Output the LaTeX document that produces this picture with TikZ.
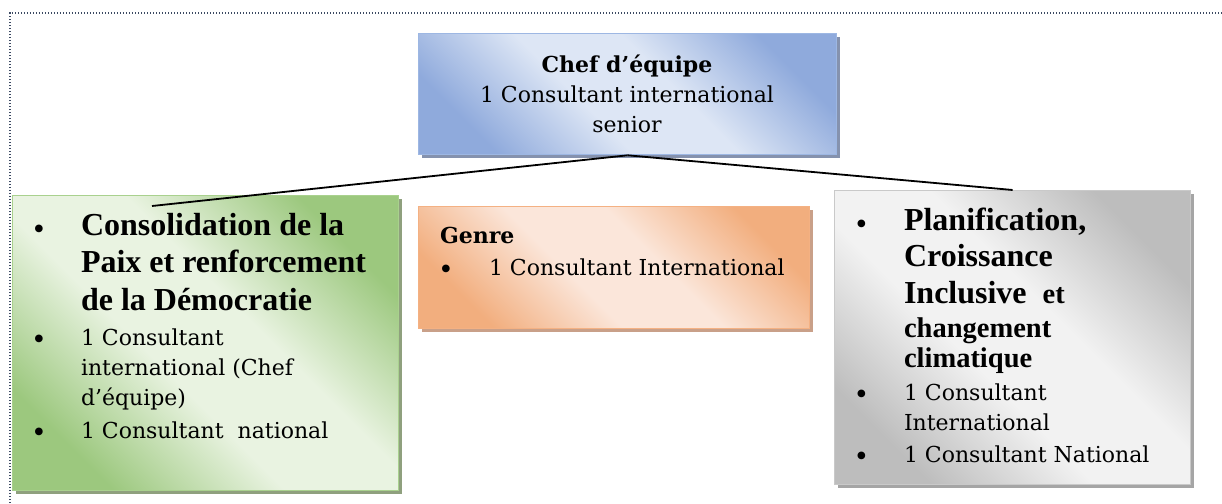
\documentclass[tikz,border=0pt]{standalone}
\usepackage{fontspec}
\setmainfont{DejaVu Serif}
\newfontfamily\tms{Liberation Serif}
\usetikzlibrary{shadows}
\definecolor{frameC}{HTML}{3C4A63}
\definecolor{blueD}{HTML}{8FAADC}
\definecolor{blueL}{HTML}{DDE6F5}
\definecolor{blueB}{HTML}{9DB7E3}
\definecolor{blueS}{HTML}{8592AE}
\definecolor{greenD}{HTML}{9CC87E}
\definecolor{greenL}{HTML}{E9F3E1}
\definecolor{greenB}{HTML}{A9D18E}
\definecolor{greenS}{HTML}{8FA07E}
\definecolor{orD}{HTML}{F2AE7E}
\definecolor{orL}{HTML}{FBE6DA}
\definecolor{orB}{HTML}{F4B183}
\definecolor{orS}{HTML}{C9A089}
\definecolor{grD}{HTML}{BDBDBD}
\definecolor{grL}{HTML}{F2F2F2}
\definecolor{grB}{HTML}{C9C9C9}
\definecolor{grS}{HTML}{A5A5A5}
\pgfdeclarehorizontalshading{blueSh}{100bp}{color(0bp)=(blueD); color(25bp)=(blueD); color(43bp)=(blueL); color(57bp)=(blueL); color(75bp)=(blueD); color(100bp)=(blueD)}
\pgfdeclarehorizontalshading{greenSh}{100bp}{color(0bp)=(greenD); color(25bp)=(greenD); color(43bp)=(greenL); color(57bp)=(greenL); color(75bp)=(greenD); color(100bp)=(greenD)}
\pgfdeclarehorizontalshading{orSh}{100bp}{color(0bp)=(orD); color(25bp)=(orD); color(43bp)=(orL); color(57bp)=(orL); color(75bp)=(orD); color(100bp)=(orD)}
\pgfdeclarehorizontalshading{grSh}{100bp}{color(0bp)=(grD); color(25bp)=(grD); color(43bp)=(grL); color(57bp)=(grL); color(75bp)=(grD); color(100bp)=(grD)}
\newcommand\fixsp{\spaceskip=0pt\xspaceskip=0pt\relax}
\newcommand\camf{\normalfont\fontsize{22}{30}\selectfont\fixsp}
\newcommand\camb{\normalfont\bfseries\fontsize{22}{30}\selectfont\fixsp}
\newcommand\hdf{\tms\bfseries\fontsize{32}{37.5}\selectfont\fixsp}
\newcommand\hdg{\tms\bfseries\fontsize{32}{36.5}\selectfont\fixsp}
\newcommand\hds{\tms\bfseries\fontsize{28.5}{30}\selectfont\fixsp}
\newcommand\bulglyph{\raisebox{-4pt}{\tms\mdseries\fontsize{32}{32}\selectfont •}}
\newcommand\bul[1]{\noindent\llap{\bulglyph\hspace{#1}}}
\begin{document}
\begin{tikzpicture}[x=1pt,y=-1pt,
  box/.style={draw, line width=1.3pt, rectangle, inner sep=0pt, anchor=north west},
  shadeS/.style 2 args={shading=#1, shading angle=45,
     general shadow={fill=#2, shadow xshift=3pt, shadow yshift=-3pt}},
  txt/.style={inner sep=0pt, outer sep=0pt, align=flush left, anchor=base west},
  conn/.style={draw=black, line width=1.8pt}]
\useasboundingbox (0,0) rectangle (1222,503);
\draw[frameC, line width=1.2pt, dash pattern=on 1.2pt off 1.8pt] (10,503) -- (10,13) -- (1222,13);

\node[box, draw=blueB, shadeS={blueSh}{blueS}, minimum width=418pt, minimum height=121pt] (chef) at (418,33) {};
\node[box, draw=greenB, shadeS={greenSh}{greenS}, minimum width=386pt, minimum height=295pt] (paix) at (12,195) {};
\node[box, draw=orB, shadeS={orSh}{orS}, minimum width=391pt, minimum height=122pt] (genre) at (418,206) {};
\node[box, draw=grB, shadeS={grSh}{grS}, minimum width=356pt, minimum height=294pt] (plan) at (834,190) {};

\node[txt, anchor=base, align=flush center, text width=410pt] (chefTxt) at (627,72)
  {\camb Chef d’équipe\par\camf 1 Consultant international\\senior\par};

\node[txt, text width=310pt] (paixTxt) at (81,235)
  {\hdf\bul{36.4pt}Consolidation de la\\Paix et renforcement\\de la Démocratie\par
   \vspace{5pt}\camf\bul{36.4pt}1 Consultant\\international (Chef\\d’équipe)\par
   \vspace{3pt}\bul{36.4pt}1 Consultant\ \ national\par};

\node[txt, text width=380pt] (genreTxt) at (440,243)
  {\camb Genre\par\vspace{2pt}\camf\noindent\makebox[49pt][l]{\hspace{0.4pt}\bulglyph}1 Consultant International\par};

\node[txt, text width=280pt] (planTxt) at (904,230)
  {\hdg\bul{37pt}Planification,\\Croissance\\Inclusive\ \ {\hds et}\\[-2.5pt]{\hds changement}\\[-6.5pt]{\hds climatique}\par
   \vspace{3pt}\camf\bul{37pt}1 Consultant\\International\par
   \vspace{2pt}\bul{37pt}1 Consultant National\par};

\coordinate (paixIn) at (152,206);
\draw[conn] (chef.south) -- (paixIn);
\draw[conn] (chef.south) -- (plan.north);
\end{tikzpicture}
\end{document}
